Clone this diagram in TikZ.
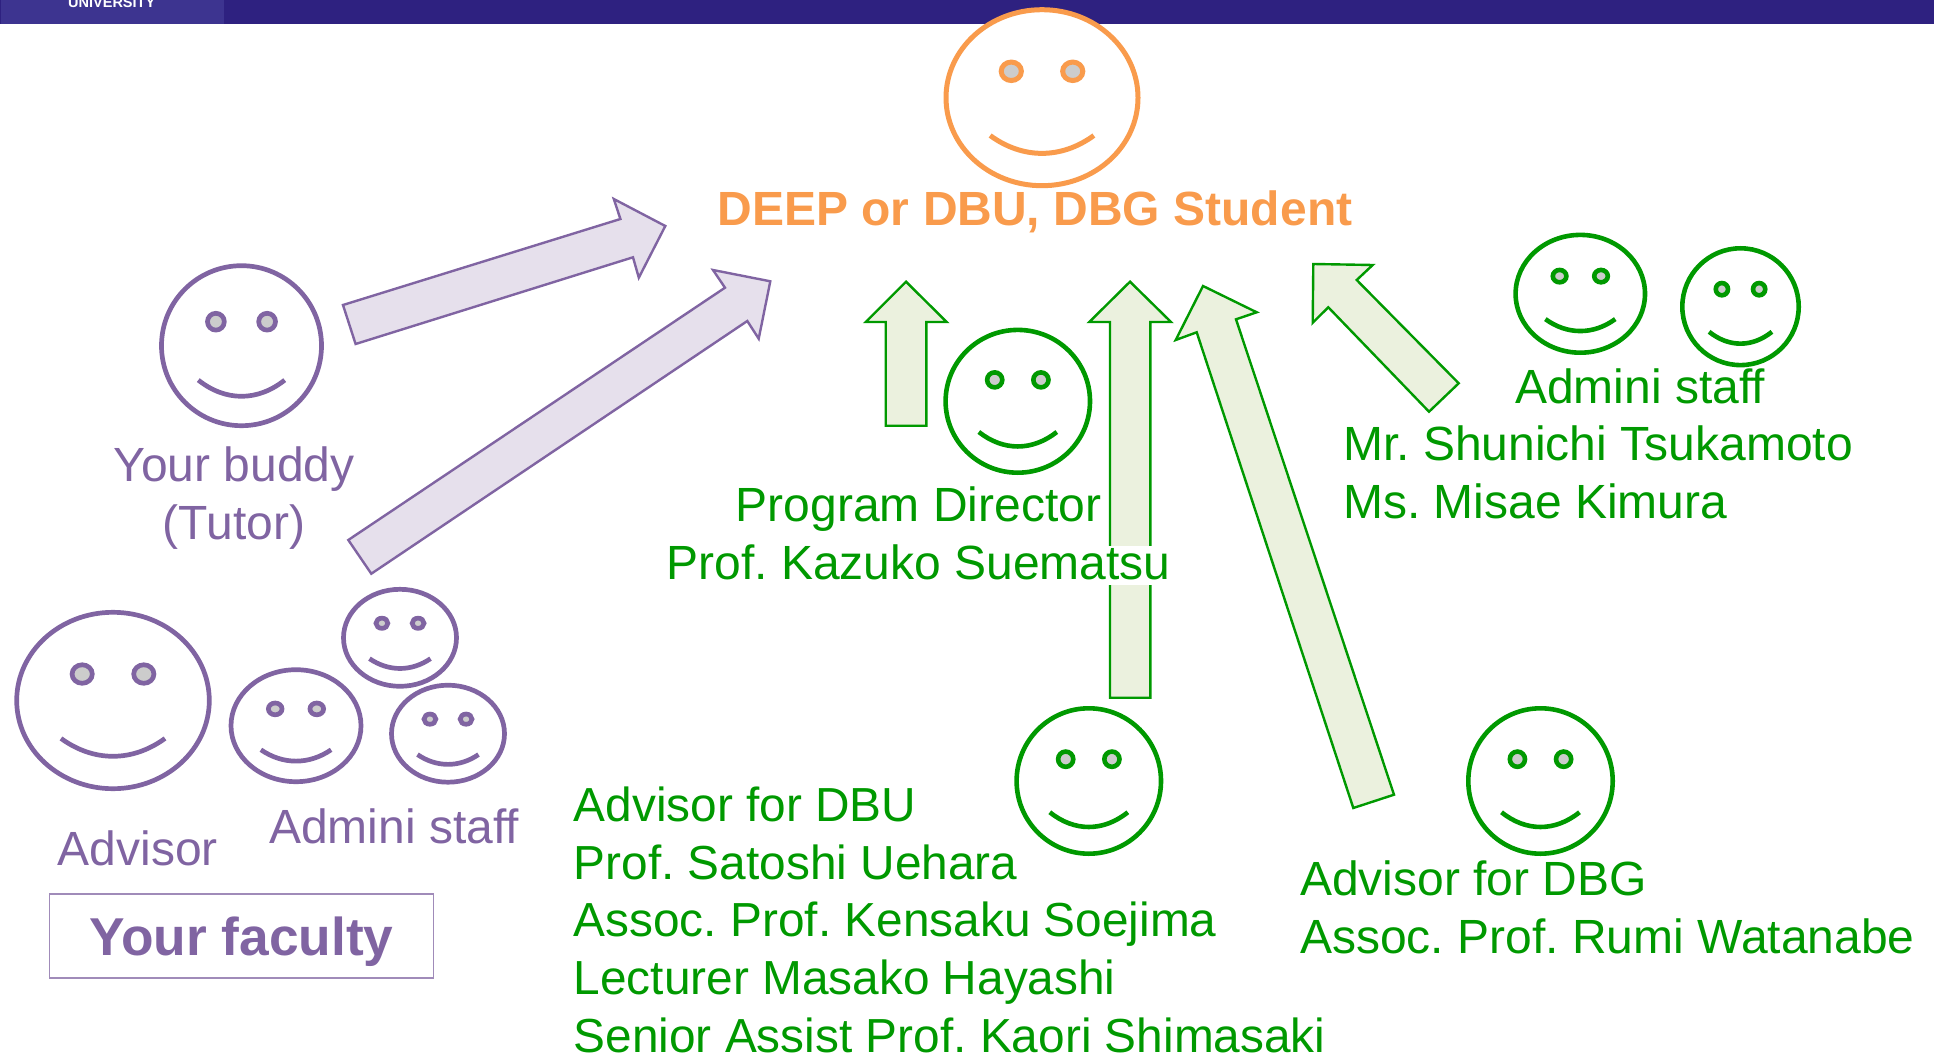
\documentclass[tikz,border=0pt]{standalone}
\usepackage{fontspec}
\setmainfont{Liberation Sans}
\usetikzlibrary{shapes.geometric}
\frenchspacing

\definecolor{barblue}{HTML}{2E2180}
\definecolor{logoblue}{HTML}{3D3490}
\definecolor{facepurple}{HTML}{8064A2}
\definecolor{fillpurple}{HTML}{E6E0EC}
\definecolor{facegreen}{HTML}{009900}
\definecolor{fillgreen}{HTML}{EBF1DE}
\definecolor{faceorange}{HTML}{F99B4C}
\definecolor{eyegrey}{HTML}{CCCCCC}

% name, x, y, x radius, y radius, style
\newcommand{\smiley}[6]{
  \node[faceoval,#6,minimum width=2*#4pt,minimum height=2*#5pt] (#1) at (#2,#3) {};
  \begin{scope}[shift={(#1.center)},x=#4pt,y=-#5pt]
    \draw[#6,fill=eyegrey] (-.32,-.3) ellipse [x radius=.105,y radius=.105];
    \draw[#6,fill=eyegrey] (.32,-.3) ellipse [x radius=.105,y radius=.105];
    \draw[#6] (-.54,.43) .. controls (-.2,.7) and (.2,.7) .. (.54,.43);
  \end{scope}
}

\begin{document}
\begin{tikzpicture}[x=1pt,y=-1pt]
    \tikzstyle{faceoval}=[ellipse,draw,fill=white,inner sep=0pt,outer sep=0pt]
    \tikzstyle{orangeface}=[draw=faceorange,line width=5pt]
    \tikzstyle{purpleface}=[draw=facepurple,line width=4.7pt]
    \tikzstyle{greenface}=[draw=facegreen,line width=4.6pt]
    \tikzstyle{purplearrow}=[draw=facepurple,fill=fillpurple,line width=2.4pt,line join=miter]
    \tikzstyle{greenarrow}=[draw=facegreen,fill=fillgreen,line width=2.4pt,line join=miter]
    \tikzstyle{label}=[inner sep=0pt,align=left,font=\fontsize{48}{57.8}\selectfont]
    \tikzstyle{purplelabel}=[label,text=facepurple]
    \tikzstyle{greenlabel}=[label,text=facegreen]
    \useasboundingbox (0,0) rectangle (1934,1056);

    \fill[barblue] (0,0) rectangle (1934,24);
    \fill[logoblue] (1,0) rectangle (224,24);
    \node[anchor=base west,inner sep=0pt,text=white,font=\fontsize{14.5}{14.5}\bfseries] (logotext) at (68,8) {UNIVERSITY};

    \draw[purplearrow] (343,305) -- (620.4,219) -- (613.8,199) -- (665.3,226) -- (638.8,277.7) -- (633,257.3) -- (355.6,344) -- cycle;
    \draw[purplearrow] (348.3,540) -- (725,287.7) -- (713,270) -- (770.3,281.3) -- (758.7,338.7) -- (747.3,321) -- (371.3,573.7) -- cycle;
    \draw[greenarrow] (885.7,425.7) -- (885.7,322) -- (865.7,322) -- (906,281.7) -- (946.7,322) -- (926.3,322) -- (926.3,425.7) -- cycle;
    \draw[greenarrow] (1110,697.7) -- (1110,322) -- (1089.3,322) -- (1130,281.7) -- (1171,322) -- (1150.3,322) -- (1150.3,697.7) -- cycle;
    \draw[greenarrow] (1353.3,808) -- (1196.7,332.3) -- (1175.7,340) -- (1203,286) -- (1256.7,312.3) -- (1236,319.3) -- (1394,794.7) -- cycle;
    \draw[greenarrow] (1458.7,383.3) -- (1356.7,280) -- (1372.7,265) -- (1313.3,264) -- (1312.7,322.7) -- (1328.3,307.3) -- (1429,411.7) -- cycle;
    \fill[white] (1107,546) rectangle (1153,585);

    \smiley{student}{1042}{97.7}{96}{88}{orangeface}
    \smiley{buddy}{241.5}{345.7}{80}{80}{purpleface}
    \smiley{advisor}{113}{700.5}{96.3}{88.2}{purpleface}
    \smiley{stafftop}{400}{637.8}{56.5}{48.5}{purpleface}
    \smiley{staffleft}{296}{725.7}{65}{56}{purpleface}
    \smiley{staffright}{448}{733.7}{56.5}{48.5}{purpleface}
    \smiley{director}{1017.8}{401.3}{72.2}{71.4}{greenface}
    \smiley{dbu}{1088.8}{781}{72.2}{72.7}{greenface}
    \smiley{dbg}{1540.5}{781}{72.2}{72.7}{greenface}
    \smiley{officeleft}{1580.3}{293.8}{64.7}{58.9}{greenface}
    \smiley{officeright}{1740.5}{306.7}{58.2}{58.4}{greenface}

    \node[anchor=base,inner sep=0pt,text=faceorange,font=\fontsize{48}{58}\bfseries] (studentlabel) at (1035,226) {DEEP or DBU, DBG Student};
    \node[purplelabel,anchor=base,align=center] (buddylabel) at (234,539) {Your buddy\\(Tutor)};
    \node[purplelabel,anchor=base west] (advisorlabel) at (57.5,865) {Advisor};
    \node[purplelabel,anchor=base west] (stafflabel) at (269,843) {Admini staff};
    \node[draw=facepurple!75,line width=1.5pt,minimum width=384pt,minimum height=84pt,inner sep=0pt,text height=38pt,text depth=0pt,text=facepurple,font=\fontsize{53.3}{58}\bfseries] (faculty) at (241.5,936) {Your faculty};
    \node[greenlabel,anchor=base,align=center] (directorlabel) at (918.5,579) {Program Director\\Prof. Kazuko Suematsu};
    \node[greenlabel,anchor=base west] (officelabel) at (1515,403.3) {Admini staff};
    \node[greenlabel,anchor=base west] (officenames) at (1343,518) {Mr. Shunichi Tsukamoto\\Ms. Misae Kimura};
    \node[greenlabel,anchor=base west,font=\fontsize{47.8}{57.8}\selectfont] (dbulabel) at (573.5,1052.5) {Advisor for DBU\\Prof. Satoshi Uehara\\Assoc. Prof. Kensaku Soejima\\Lecturer Masako Hayashi\\Senior Assist Prof. Kaori Shimasaki};
    \node[greenlabel,anchor=base west] (dbglabel) at (1300,953.3) {Advisor for DBG\\Assoc. Prof. Rumi Watanabe};
  \end{tikzpicture}
\end{document}
